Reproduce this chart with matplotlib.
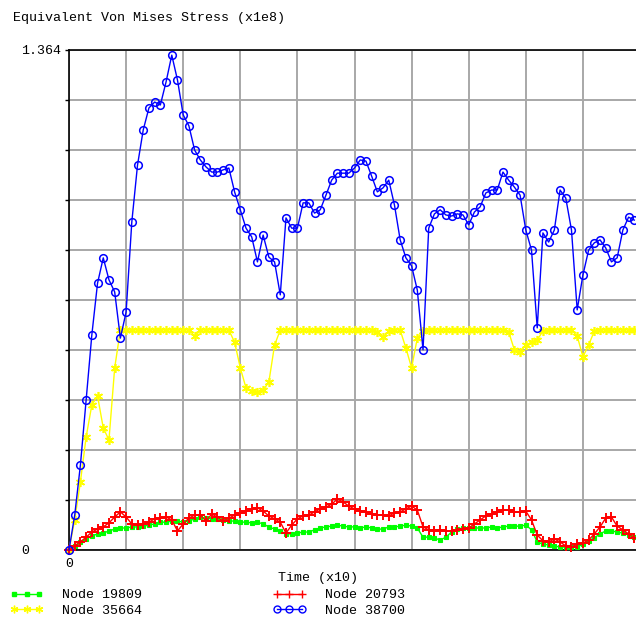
import numpy as np
import matplotlib
matplotlib.use("Agg")
import matplotlib.pyplot as plt
from matplotlib.lines import Line2D

# sample times (x10), one reading every 0.1
time = np.arange(100) * 0.1

# equivalent von Mises stress (x1e8) at each node
node_19809 = [
    0.000, 0.011, 0.022, 0.030, 0.038, 0.044, 0.046, 0.052, 0.057, 0.060,
    0.060, 0.063, 0.063, 0.065, 0.068, 0.071, 0.076, 0.076, 0.079, 0.079,
    0.076, 0.079, 0.085, 0.090, 0.087, 0.085, 0.085, 0.082, 0.079, 0.079,
    0.076, 0.076, 0.074, 0.076, 0.071, 0.063, 0.057, 0.052, 0.044, 0.044,
    0.046, 0.049, 0.049, 0.055, 0.060, 0.063, 0.065, 0.068, 0.065, 0.063,
    0.063, 0.060, 0.063, 0.060, 0.057, 0.057, 0.063, 0.063, 0.065, 0.068,
    0.065, 0.060, 0.035, 0.035, 0.033, 0.027, 0.035, 0.049, 0.057, 0.060,
    0.060, 0.060, 0.060, 0.060, 0.063, 0.060, 0.063, 0.065, 0.065, 0.065,
    0.068, 0.055, 0.022, 0.016, 0.014, 0.011, 0.008, 0.008, 0.008, 0.008,
    0.016, 0.025, 0.033, 0.044, 0.052, 0.052, 0.049, 0.046, 0.041, 0.035,
]
node_20793 = [
    0.000, 0.011, 0.022, 0.035, 0.049, 0.057, 0.063, 0.074, 0.090, 0.104,
    0.090, 0.071, 0.068, 0.071, 0.076, 0.085, 0.087, 0.090, 0.082, 0.052,
    0.071, 0.087, 0.095, 0.095, 0.079, 0.098, 0.090, 0.079, 0.087, 0.095,
    0.101, 0.106, 0.112, 0.115, 0.106, 0.093, 0.085, 0.076, 0.046, 0.068,
    0.085, 0.093, 0.095, 0.104, 0.112, 0.117, 0.125, 0.139, 0.131, 0.120,
    0.112, 0.106, 0.104, 0.098, 0.095, 0.095, 0.093, 0.101, 0.104, 0.112,
    0.120, 0.109, 0.063, 0.055, 0.052, 0.055, 0.052, 0.052, 0.055, 0.057,
    0.060, 0.071, 0.082, 0.093, 0.098, 0.104, 0.109, 0.109, 0.104, 0.104,
    0.106, 0.082, 0.041, 0.025, 0.022, 0.030, 0.022, 0.011, 0.008, 0.016,
    0.019, 0.027, 0.044, 0.063, 0.087, 0.090, 0.065, 0.055, 0.044, 0.033,
]
node_35664 = [
    0.000, 0.082, 0.186, 0.308, 0.396, 0.420, 0.333, 0.300, 0.497, 0.600,
    0.600, 0.600, 0.600, 0.600, 0.600, 0.600, 0.600, 0.600, 0.600, 0.600,
    0.600, 0.600, 0.584, 0.600, 0.600, 0.600, 0.600, 0.600, 0.600, 0.567,
    0.497, 0.442, 0.434, 0.431, 0.436, 0.458, 0.559, 0.600, 0.600, 0.600,
    0.600, 0.600, 0.600, 0.600, 0.600, 0.600, 0.600, 0.600, 0.600, 0.600,
    0.600, 0.600, 0.600, 0.600, 0.595, 0.581, 0.597, 0.600, 0.600, 0.551,
    0.497, 0.578, 0.597, 0.600, 0.600, 0.600, 0.600, 0.600, 0.600, 0.600,
    0.600, 0.600, 0.600, 0.600, 0.600, 0.600, 0.600, 0.595, 0.546, 0.540,
    0.559, 0.567, 0.573, 0.597, 0.600, 0.600, 0.600, 0.600, 0.600, 0.584,
    0.527, 0.559, 0.597, 0.600, 0.600, 0.600, 0.600, 0.600, 0.600, 0.600,
]
node_38700 = [
    0.000, 0.095, 0.232, 0.409, 0.587, 0.728, 0.797, 0.737, 0.704, 0.578,
    0.649, 0.895, 1.050, 1.146, 1.206, 1.222, 1.214, 1.277, 1.350, 1.282,
    1.187, 1.157, 1.091, 1.064, 1.045, 1.031, 1.031, 1.037, 1.042, 0.977,
    0.928, 0.878, 0.854, 0.786, 0.859, 0.799, 0.786, 0.696, 0.906, 0.878,
    0.878, 0.947, 0.947, 0.919, 0.928, 0.968, 1.009, 1.028, 1.028, 1.028,
    1.042, 1.064, 1.061, 1.020, 0.977, 0.988, 1.009, 0.941, 0.846, 0.797,
    0.775, 0.709, 0.546, 0.878, 0.917, 0.928, 0.914, 0.911, 0.917, 0.914,
    0.887, 0.922, 0.936, 0.974, 0.982, 0.982, 1.031, 1.009, 0.990, 0.968,
    0.873, 0.818, 0.606, 0.865, 0.840, 0.873, 0.982, 0.960, 0.873, 0.655,
    0.750, 0.818, 0.838, 0.846, 0.824, 0.786, 0.797, 0.873, 0.908, 0.900,
]

y_max = 1.364
mono = "Liberation Mono"

fig = plt.figure(figsize=(6.36, 6.21), dpi=100)
ax = fig.add_axes([69 / 636, 71 / 621, 571 / 636, 500 / 621])

series = [
    ("Node 19809", node_19809, "#00ff00", "s", 2.8, 0.8),
    ("Node 35664", node_35664, "#ffff00", (6, 2, 0), 6.5, 1.2),
    ("Node 20793", node_20793, "#ff0000", "+", 7, 1.4),
    ("Node 38700", node_38700, "#0000ff", "o", 5.5, 1.1),
]
leg_ms = [2.4, 5.5, 6, 5]
handles = []
for (label, vals, color, marker, ms, mew), lms in zip(series, leg_ms):
    face = "none" if marker == "o" else color
    ax.plot(time, vals, color=color, lw=1.0, marker=marker, ms=ms,
            mew=mew, mfc=face, mec=color, clip_on=False, zorder=3)
    handles.append(Line2D([0], [0], color=color, lw=1.0, marker=marker,
                          ms=lms, mew=1.0, mfc=face, mec=color))

ax.set_xlim(0, 10)
ax.set_ylim(0, y_max)
ax.set_xticks(np.arange(0, 10))
ax.set_xticklabels(["0"] + [""] * 9)
ax.set_yticks(np.linspace(0, y_max, 11))
ax.set_yticklabels(["0"] + [""] * 9 + ["1.364"])
ax.tick_params(axis="x", length=0, pad=6, labelsize=9.5)
ax.tick_params(axis="y", length=3, width=1, pad=31.7, labelsize=9.5)
for lbl in ax.get_xticklabels() + ax.get_yticklabels():
    lbl.set_fontfamily(mono)
for lbl in ax.get_yticklabels():
    lbl.set_horizontalalignment("left")
ax.grid(color="#a8a8a8", linewidth=1.4)
ax.set_axisbelow(True)
for side in ["left", "bottom", "top"]:
    ax.spines[side].set_color("black")
    ax.spines[side].set_linewidth(1.2)
ax.spines["right"].set_visible(False)

fig.text(13 / 636, 1 - 18 / 621, "Equivalent Von Mises Stress (x1e8)",
         family=mono, fontsize=9.6, va="center", ha="left")
fig.text(318 / 636, 1 - 578 / 621, "Time (x10)", family=mono,
         fontsize=9.6, va="center", ha="center")

fig.legend(handles, [s[0] for s in series], loc="upper left",
           bbox_to_anchor=(10 / 636, 1 - 589 / 621), ncol=2, frameon=False,
           numpoints=3, handlelength=2.5, handletextpad=1.4,
           columnspacing=9.8, borderpad=0, borderaxespad=0, labelspacing=0.25,
           prop={"family": mono, "size": 9.6})

fig.savefig("out.png", dpi=100)
